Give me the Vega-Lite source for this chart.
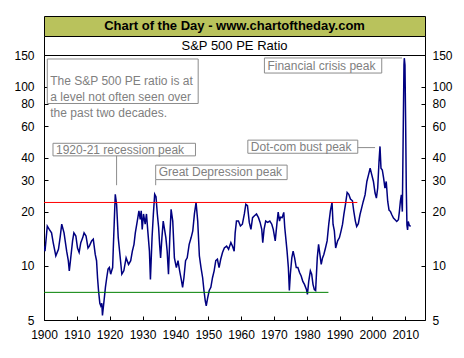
{
  "$schema": "https://vega.github.io/schema/vega-lite/v6.json",
  "background": "white",
  "padding": {"left": 13, "top": 15, "right": 5, "bottom": 5},
  "config": {"font": "Liberation Sans", "concat": {"spacing": 0}},
  "bounds": "flush",
  "spacing": 0,
  "vconcat": [
    {
      "width": 381,
      "height": 20,
      "view": {"fill": "#B9C25C", "stroke": "black", "strokeWidth": 1},
      "data": {"values": [{"t": "Chart of the Day - www.chartoftheday.com"}]},
      "mark": {"type": "text", "fontSize": 13, "fontWeight": "bold", "color": "black"},
      "encoding": {"text": {"field": "t", "type": "nominal"}}
    },
    {
      "width": 381,
      "height": 19,
      "view": {"fill": "white", "stroke": "black", "strokeWidth": 1},
      "data": {"values": [{"t": "S&P 500 PE Ratio"}]},
      "mark": {"type": "text", "fontSize": 13, "color": "black"},
      "encoding": {"text": {"field": "t", "type": "nominal"}}
    },
    {
      "width": 381,
      "height": 265,
      "view": {"fill": "white", "stroke": "black", "strokeWidth": 1},
      "resolve": {"axis": {"y": "independent"}},
      "layer": [
        {
          "data": {"values": [
            {"year":1900.0,"pe":12.9},{"year":1900.3,"pe":12.1},{"year":1901.0,"pe":16.7},{"year":1901.6,"pe":16.0},{"year":1902.3,"pe":15.3},{"year":1902.8,"pe":13.5},{"year":1903.6,"pe":11.4},{"year":1904.4,"pe":12.4},{"year":1904.9,"pe":14.4},{"year":1905.4,"pe":17.1},{"year":1906.1,"pe":15.3},{"year":1906.9,"pe":12.1},{"year":1907.4,"pe":10.7},{"year":1907.7,"pe":9.4},{"year":1908.1,"pe":10.9},{"year":1908.7,"pe":13.8},{"year":1909.1,"pe":15.3},{"year":1909.7,"pe":14.7},
            {"year":1910.2,"pe":12.6},{"year":1910.7,"pe":11.9},{"year":1911.2,"pe":13.5},{"year":1911.8,"pe":14.4},{"year":1912.2,"pe":15.3},{"year":1912.8,"pe":14.7},{"year":1913.4,"pe":12.6},{"year":1913.8,"pe":12.9},{"year":1914.5,"pe":13.8},{"year":1915.0,"pe":14.1},{"year":1915.6,"pe":11.6},{"year":1916.0,"pe":10.7},{"year":1916.3,"pe":8.6},{"year":1916.6,"pe":7.3},{"year":1917.0,"pe":6.2},{"year":1917.3,"pe":6.0},{"year":1917.6,"pe":6.2},{"year":1917.8,"pe":5.3},{"year":1918.2,"pe":6.2},{"year":1918.7,"pe":7.6},{"year":1919.1,"pe":8.6},{"year":1919.5,"pe":9.6},{"year":1919.9,"pe":9.8},
            {"year":1920.3,"pe":9.0},{"year":1920.6,"pe":9.4},{"year":1920.9,"pe":9.8},{"year":1921.1,"pe":12.6},{"year":1921.4,"pe":17.8},{"year":1921.7,"pe":25.1},{"year":1922.1,"pe":22.1},{"year":1922.6,"pe":14.4},{"year":1923.3,"pe":10.7},{"year":1923.7,"pe":9.0},{"year":1924.3,"pe":9.4},{"year":1925.0,"pe":11.1},{"year":1925.75,"pe":10.2},{"year":1926.4,"pe":10.7},{"year":1926.9,"pe":12.1},{"year":1927.4,"pe":13.2},{"year":1927.8,"pe":15.3},{"year":1928.4,"pe":17.8},{"year":1928.9,"pe":20.3},{"year":1929.3,"pe":18.2},{"year":1929.6,"pe":20.3},{"year":1929.9,"pe":16.0},
            {"year":1930.3,"pe":19.5},{"year":1930.8,"pe":17.1},{"year":1931.2,"pe":19.5},{"year":1931.6,"pe":15.7},{"year":1932.1,"pe":12.1},{"year":1932.4,"pe":8.4},{"year":1932.9,"pe":14.4},{"year":1933.3,"pe":19.5},{"year":1933.7,"pe":25.1},{"year":1934.1,"pe":24.3},{"year":1934.5,"pe":19.5},{"year":1934.9,"pe":16.4},{"year":1935.2,"pe":13.2},{"year":1935.5,"pe":11.1},{"year":1935.9,"pe":14.4},{"year":1936.3,"pe":17.8},{"year":1936.7,"pe":16.0},{"year":1937.1,"pe":14.4},{"year":1937.5,"pe":12.1},{"year":1937.9,"pe":9.0},{"year":1938.3,"pe":14.4},{"year":1938.7,"pe":20.7},{"year":1939.2,"pe":17.8},{"year":1939.7,"pe":11.1},
            {"year":1940.3,"pe":9.8},{"year":1940.8,"pe":10.7},{"year":1941.3,"pe":9.4},{"year":1941.8,"pe":8.4},{"year":1942.2,"pe":7.6},{"year":1942.6,"pe":8.6},{"year":1943.1,"pe":10.7},{"year":1943.6,"pe":11.1},{"year":1944.2,"pe":13.2},{"year":1944.8,"pe":14.4},{"year":1945.3,"pe":15.7},{"year":1945.8,"pe":19.5},{"year":1946.3,"pe":22.6},{"year":1946.8,"pe":17.8},{"year":1947.3,"pe":11.4},{"year":1947.8,"pe":9.8},{"year":1948.3,"pe":8.6},{"year":1948.7,"pe":7.3},{"year":1949.1,"pe":6.4},{"year":1949.4,"pe":6.0},{"year":1949.8,"pe":6.6},
            {"year":1950.3,"pe":7.3},{"year":1950.8,"pe":7.6},{"year":1951.3,"pe":8.6},{"year":1951.8,"pe":9.4},{"year":1952.3,"pe":10.7},{"year":1952.8,"pe":10.9},{"year":1953.3,"pe":9.8},{"year":1953.8,"pe":10.9},{"year":1954.35,"pe":11.9},{"year":1954.9,"pe":12.6},{"year":1955.6,"pe":12.9},{"year":1956.2,"pe":12.4},{"year":1956.9,"pe":13.5},{"year":1957.4,"pe":12.9},{"year":1957.9,"pe":12.1},{"year":1958.2,"pe":15.3},{"year":1958.6,"pe":17.8},{"year":1959.2,"pe":17.8},{"year":1959.8,"pe":16.7},
            {"year":1960.4,"pe":17.1},{"year":1961.0,"pe":19.5},{"year":1961.45,"pe":22.1},{"year":1961.95,"pe":21.7},{"year":1962.5,"pe":17.5},{"year":1963.0,"pe":16.0},{"year":1963.5,"pe":18.6},{"year":1964.0,"pe":19.0},{"year":1964.7,"pe":19.5},{"year":1965.3,"pe":18.6},{"year":1965.8,"pe":17.5},{"year":1966.3,"pe":16.0},{"year":1966.6,"pe":13.5},{"year":1967.0,"pe":16.0},{"year":1967.5,"pe":17.8},{"year":1968.1,"pe":17.5},{"year":1968.75,"pe":17.8},{"year":1969.35,"pe":17.1},{"year":1969.8,"pe":16.0},
            {"year":1970.4,"pe":13.8},{"year":1970.9,"pe":17.1},{"year":1971.3,"pe":20.0},{"year":1971.7,"pe":17.8},{"year":1972.0,"pe":18.7},{"year":1972.5,"pe":18.6},{"year":1973.0,"pe":19.9},{"year":1973.3,"pe":16.4},{"year":1973.7,"pe":13.8},{"year":1974.0,"pe":12.1},{"year":1974.4,"pe":9.8},{"year":1974.7,"pe":7.3},{"year":1975.0,"pe":9.0},{"year":1975.45,"pe":11.1},{"year":1975.85,"pe":12.1},{"year":1976.3,"pe":11.1},{"year":1976.8,"pe":9.8},{"year":1977.3,"pe":9.8},{"year":1977.8,"pe":9.2},{"year":1978.3,"pe":8.8},{"year":1978.8,"pe":8.2},{"year":1979.3,"pe":7.9},{"year":1979.9,"pe":7.4},
            {"year":1980.2,"pe":6.95},{"year":1980.6,"pe":8.2},{"year":1981.1,"pe":9.4},{"year":1981.5,"pe":9.0},{"year":1981.9,"pe":7.9},{"year":1982.3,"pe":7.4},{"year":1982.7,"pe":7.3},{"year":1983.2,"pe":11.1},{"year":1983.6,"pe":13.2},{"year":1984.0,"pe":11.6},{"year":1984.4,"pe":10.2},{"year":1984.8,"pe":11.1},{"year":1985.2,"pe":11.6},{"year":1985.7,"pe":12.6},{"year":1986.2,"pe":13.8},{"year":1986.7,"pe":17.1},{"year":1987.2,"pe":20.3},{"year":1987.7,"pe":22.6},{"year":1988.0,"pe":17.1},{"year":1988.4,"pe":15.7},{"year":1988.8,"pe":12.6},{"year":1989.4,"pe":13.8},{"year":1989.95,"pe":14.4},
            {"year":1990.45,"pe":15.7},{"year":1990.9,"pe":17.1},{"year":1991.3,"pe":19.4},{"year":1991.8,"pe":22.1},{"year":1992.3,"pe":25.7},{"year":1992.8,"pe":25.1},{"year":1993.3,"pe":23.6},{"year":1993.9,"pe":23.1},{"year":1994.3,"pe":20.3},{"year":1994.8,"pe":17.8},{"year":1995.2,"pe":16.6},{"year":1995.7,"pe":17.2},{"year":1996.2,"pe":19.3},{"year":1996.7,"pe":21.0},{"year":1997.2,"pe":22.9},{"year":1997.75,"pe":24.9},{"year":1998.3,"pe":29.6},{"year":1998.8,"pe":32.2},{"year":1999.3,"pe":35.1},{"year":1999.8,"pe":32.2},
            {"year":2000.3,"pe":29.6},{"year":2000.8,"pe":25.5},{"year":2001.2,"pe":23.9},{"year":2001.6,"pe":27.2},{"year":2002.0,"pe":38.2},{"year":2002.3,"pe":46.4},{"year":2002.6,"pe":35.1},{"year":2003.0,"pe":34.3},{"year":2003.4,"pe":30.9},{"year":2003.8,"pe":27.2},{"year":2004.2,"pe":29.6},{"year":2004.65,"pe":22.9},{"year":2005.05,"pe":20.5},{"year":2005.5,"pe":20.1},{"year":2005.9,"pe":19.3},{"year":2006.4,"pe":18.5},{"year":2006.9,"pe":18.1},{"year":2007.4,"pe":17.7},{"year":2007.9,"pe":18.1},{"year":2008.2,"pe":20.1},{"year":2008.5,"pe":22.9},{"year":2008.8,"pe":24.9},{"year":2009.1,"pe":20.1},{"year":2009.4,"pe":63.9},{"year":2009.6,"pe":132},{"year":2009.7,"pe":144},{"year":2009.9,"pe":132},{"year":2010.1,"pe":64},{"year":2010.3,"pe":27.2},{"year":2010.5,"pe":16.9},{"year":2010.7,"pe":15.9},{"year":2010.9,"pe":17.7},{"year":2011.2,"pe":16.9},{"year":2011.6,"pe":16.6}
          ]},
          "mark": {"type": "line", "color": "#000080", "strokeWidth": 1.5, "clip": true},
          "encoding": {
            "x": {"field": "year", "type": "quantitative",
                  "scale": {"domain": [1900, 2016], "nice": false, "zero": false},
                  "axis": {"values": [1900,1910,1920,1930,1940,1950,1960,1970,1980,1990,2000,2010], "format": "d", "grid": false, "domain": false, "tickSize": -4, "tickColor": "black", "labelPadding": 13, "labelFontSize": 12, "labelColor": "black", "labelFlush": false, "labelOverlap": false, "title": null}},
            "y": {"field": "pe", "type": "quantitative",
                  "scale": {"type": "log", "domain": [5, 150], "nice": false},
                  "axis": {"orient": "left", "values": [5,10,20,30,40,60,80,100,150], "format": "d", "grid": false, "domain": false, "tickSize": -4, "tickColor": "black", "labelPadding": 14, "labelFontSize": 12, "labelColor": "black", "labelOverlap": false, "title": null}}
          }
        },
        {
          "data": {"values": [
            {"from": 1900, "to": 1995.4, "level": 22.6, "kind": "high"},
            {"from": 1900, "to": 1986.6, "level": 7.13, "kind": "low"}
          ]},
          "mark": {"type": "rule", "strokeWidth": 1},
          "encoding": {
            "x": {"field": "from", "type": "quantitative",
                  "axis": {"values": [1900,1910,1920,1930,1940,1950,1960,1970,1980,1990,2000,2010], "format": "d", "grid": false, "domain": false, "tickSize": -4, "tickColor": "black", "labelPadding": 13, "labelFontSize": 12, "labelColor": "black", "labelFlush": false, "labelOverlap": false, "title": null}},
            "x2": {"field": "to"},
            "y": {"field": "level", "type": "quantitative",
                  "axis": {"orient": "right", "values": [5,10,20,30,40,60,80,100,150], "format": "d", "grid": false, "domain": false, "tickSize": -4, "tickColor": "black", "labelPadding": 11, "labelFontSize": 12, "labelColor": "black", "labelOverlap": false, "title": null}},
            "color": {"field": "kind", "type": "nominal", "scale": {"domain": ["high", "low"], "range": ["#FF0000", "#008000"]}, "legend": null}
          }
        },
        {
          "data": {"values": [
            {"x1": 1901.0, "x2": 1946.94, "y1": 142.5, "y2": 80.5},
            {"x1": 1902.74, "x2": 1946.12, "y1": 48.3, "y2": 41.1},
            {"x1": 1934.0, "x2": 1974.02, "y1": 36.5, "y2": 30.3},
            {"x1": 1962.06, "x2": 1995.53, "y1": 50.3, "y2": 42.5},
            {"x1": 1967.11, "x2": 2002.83, "y1": 144.4, "y2": 119.0}
          ]},
          "mark": {"type": "rect", "fill": "white", "stroke": "#8C8C8C", "strokeWidth": 1},
          "encoding": {
            "x": {"field": "x1", "type": "quantitative",
                  "axis": {"values": [1900,1910,1920,1930,1940,1950,1960,1970,1980,1990,2000,2010], "format": "d", "grid": false, "domain": false, "tickSize": -4, "tickColor": "black", "labelPadding": 13, "labelFontSize": 12, "labelColor": "black", "labelFlush": false, "labelOverlap": false, "title": null}},
            "x2": {"field": "x2"},
            "y": {"field": "y1", "type": "quantitative", "axis": null},
            "y2": {"field": "y2"}
          }
        },
        {
          "data": {"values": [
            {"x1": 1922.1, "x2": 1922.1, "y1": 41.1, "y2": 28.2},
            {"x1": 1934.0, "x2": 1934.0, "y1": 30.3, "y2": 28.2},
            {"x1": 1995.53, "x2": 2000.8, "y1": 45.7, "y2": 45.7},
            {"x1": 2002.83, "x2": 2009.0, "y1": 144.4, "y2": 144.4}
          ]},
          "mark": {"type": "rule", "color": "#8C8C8C", "strokeWidth": 1},
          "encoding": {
            "x": {"field": "x1", "type": "quantitative",
                  "axis": {"values": [1900,1910,1920,1930,1940,1950,1960,1970,1980,1990,2000,2010], "format": "d", "grid": false, "domain": false, "tickSize": -4, "tickColor": "black", "labelPadding": 13, "labelFontSize": 12, "labelColor": "black", "labelFlush": false, "labelOverlap": false, "title": null}},
            "x2": {"field": "x2"},
            "y": {"field": "y1", "type": "quantitative", "axis": null},
            "y2": {"field": "y2"}
          }
        },
        {
          "data": {"values": [
            {"x": 1901.0, "y": 107.1, "label": "The S&P 500 PE ratio is at\na level not often seen over\nthe past two decades."},
            {"x": 1902.74, "y": 44.6, "label": "1920-21 recession peak"},
            {"x": 1934.0, "y": 33.3, "label": "Great Depression peak"},
            {"x": 1962.06, "y": 46.2, "label": "Dot-com bust peak"},
            {"x": 1967.11, "y": 131.0, "label": "Financial crisis peak"}
          ]},
          "mark": {"type": "text", "align": "left", "baseline": "middle", "dx": 3, "fontSize": 12, "lineBreak": "\n", "lineHeight": 16, "color": "#808080"},
          "encoding": {
            "x": {"field": "x", "type": "quantitative",
                  "axis": {"values": [1900,1910,1920,1930,1940,1950,1960,1970,1980,1990,2000,2010], "format": "d", "grid": false, "domain": false, "tickSize": -4, "tickColor": "black", "labelPadding": 13, "labelFontSize": 12, "labelColor": "black", "labelFlush": false, "labelOverlap": false, "title": null}},
            "y": {"field": "y", "type": "quantitative", "axis": null},
            "text": {"field": "label", "type": "nominal"}
          }
        }
      ]
    }
  ]
}
